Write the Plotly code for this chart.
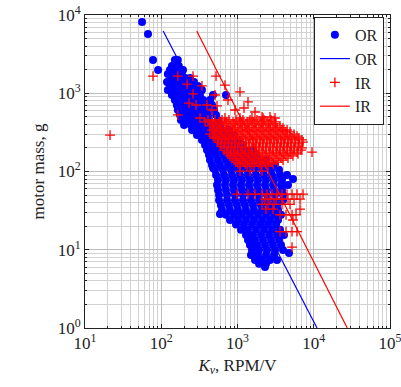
import plotly.graph_objects as go

# OR (outrunner) motors: rows of (motor mass in g, [Kv values in RPM/V])
or_rows = [
    (8130, [56]),
    (5720, [67]),
    (2660, [78, 151, 165]),
    (2440, [156]),
    (2230, [138, 170]),
    (1980, [91, 130, 160, 193]),
    (1760, [122, 151, 181]),
    (1570, [138, 165, 205, 238]),
    (1390, [119, 147, 181, 224, 269]),
    (1240, [130, 160, 199, 245, 303]),
    (1100, [122, 151, 187, 231, 286, 342]),
    (950, [138, 170, 211, 261, 322, 477, 706]),
    (820, [151, 187, 231, 286, 353, 436]),
    (708, [160, 199, 245, 303, 375, 463]),
    (611, [165, 205, 253, 313, 386, 492]),
    (528, [176, 218, 269, 332, 410, 523]),
    (455, [181, 224, 277, 342, 423, 555]),
    (393, [199, 245, 303, 375, 463, 589]),
    (339, [253, 313, 386, 477, 607, 773]),
    (292, [294, 363, 449, 555, 706, 900]),
    (253, [342, 423, 523, 645, 822, 1047]),
    (218, [375, 463, 573, 728, 927, 1180]),
    (188, [398, 492, 607, 773, 985, 1254, 1597]),
    (163, [423, 523, 665, 847, 1078, 1373, 1749]),
    (140, [436, 555, 706, 900, 1145, 1458, 1858, 2366]),
    (121, [463, 589, 750, 956, 1216, 1549, 1973, 2513, 3104]),
    (111, [477]),
    (105, [507, 645, 822, 1047, 1332, 1697, 2160, 2752, 3503]),
    (90, [523, 665, 847, 1078, 1373, 1749, 2227, 2836, 3610, 4461]),
    (80, [5347]),
    (78, [555, 706, 900, 1145, 1458, 1858, 2366, 3013, 3835]),
    (67, [539, 685, 873, 1111, 1415, 1802, 2295, 2923, 3721, 4597]),
    (58, [555, 706, 900, 1145, 1458, 1858, 2366, 3013, 3835]),
    (50, [573, 728, 927, 1180, 1503, 1915, 2438, 3104, 3953]),
    (43, [573, 728, 927, 1180, 1503, 1915, 2438, 3104, 3953]),
    (37, [607, 773, 985, 1254, 1597, 2034, 2591, 3298]),
    (32, [626, 797, 1015, 1292, 1646, 2097, 2669, 3399]),
    (28.7, [589]),
    (28, [706, 900, 1145, 1458, 1858, 2366, 3013, 3721]),
    (24, [797, 1015, 1292, 1646, 2097, 2669, 3399]),
    (21, [956, 1216, 1549, 1973, 2513, 3200]),
    (18, [1111, 1373, 1749, 2227, 2836, 3610]),
    (15.4, [1292, 1597, 2034, 2591, 3298, 4074]),
    (13.3, [1373, 1697, 2160, 2752, 3503]),
    (11.5, [1458, 1802, 2295, 2923, 3721]),
    (9.9, [1549, 1915, 2438, 3104, 3953]),
    (9.1, [4738]),
    (8.6, [1503, 1858, 2366, 3013]),
    (7.4, [1697, 2097, 2669, 3298]),
    (6.6, [1915, 2366]),
    (6.0, [2295]),
]

# IR (inrunner) motors: rows of (motor mass in g, [Kv values in RPM/V])
ir_rows = [
    (1660, [78, 165, 261, 523]),
    (1310, [218]),
    (1270, [685]),
    (1240, [342]),
    (1040, [1078]),
    (980, [261]),
    (950, [507]),
    (820, [750]),
    (775, [1373]),
    (750, [231]),
    (708, [286, 398]),
    (688, [539]),
    (648, [1216]),
    (611, [463, 927]),
    (576, [1697]),
    (528, [165]),
    (498, [2097, 2669]),
    (292, [21.3]),
    (483, [322, 685, 1078, 1549, 2160, 3104]),
    (455, [410, 507, 626, 773, 956, 1180, 1458, 1802, 2227, 2752]),
    (430, [375, 463, 573, 706, 873, 1078, 1332, 1646, 2034, 2513, 3104]),
    (405, [477, 589, 728, 900, 1111, 1373, 1697, 2097, 2591, 3200]),
    (382, [436, 539, 665, 822, 1015, 1254, 1549, 1915, 2366, 2923, 3610]),
    (360, [492, 607, 750, 927, 1145, 1415, 1749, 2160, 2669, 3298, 3953]),
    (339, [463, 573, 706, 873, 1078, 1332, 1646, 2034, 2513, 3104, 3835, 4461]),
    (320, [507, 626, 773, 956, 1180, 1458, 1802, 2227, 2752, 3399, 4199, 4884]),
    (300, [436, 539, 665, 822, 1015, 1254, 1549, 1915, 2366, 2923, 3610, 4461, 5511]),
    (284, [477, 589, 728, 900, 1111, 1373, 1697, 2097, 2591, 3200, 3953, 4884, 6034]),
    (268, [507, 626, 773, 956, 1180, 1458, 1802, 2227, 2752, 3399, 4199, 5188, 6409]),
    (253, [555, 685, 847, 1047, 1292, 1597, 1973, 2438, 3013, 3721, 4597, 5680, 7017]),
    (237, [555, 685, 847, 1047, 1292, 1597, 1973, 2438, 3013, 3721, 4597, 5680, 7232]),
    (225, [607, 750, 927, 1145, 1415, 1749, 2160, 2669, 3298, 4074, 5034, 6409]),
    (211, [607, 750, 927, 1145, 1415, 1749, 2160, 2669, 3298, 4074, 5034, 6219]),
    (200, [665, 822, 1015, 1254, 1549, 1915, 2366, 2923, 3610, 4461, 5511, 7017]),
    (188, [665, 822, 1015, 1254, 1549, 1915, 2366, 2923, 3610, 4461, 5511, 6808]),
    (177, [728, 900, 1111, 1373, 1697, 2097, 2591, 3200, 3953, 4884, 6034, 9490]),
    (168, [750, 927, 1145, 1415, 1749, 2160, 2669, 3298, 4074, 5034, 6219]),
    (158, [797, 985, 1216, 1503, 1858, 2295, 2836, 3503, 4328, 5347]),
    (148, [847, 1047, 1292, 1597, 1973, 2438, 3013, 3721, 4597]),
    (140, [900, 1111, 1373, 1697, 2097, 2591, 3200, 3953]),
    (132, [956, 1180, 1458, 1802, 2227, 2752, 3399]),
    (125, [1015, 1254, 1549, 1915, 2366, 2923]),
    (117, [1078, 1332, 1646, 2034, 2513]),
    (101, [1078, 1458, 2097]),
    (51.5, [985, 1373, 1697, 2097, 2438, 2836, 3298, 3835, 4461, 5188, 6034, 7232]),
    (44.3, [2295, 2669, 3200, 3835, 4597, 5511, 6606]),
    (38.1, [2097, 2513, 3013, 3835, 4884]),
    (33, [2366, 2923, 6606]),
    (28, [3610, 4328, 5188, 5854]),
    (24, [5347]),
    (17, [3610, 4328, 5188, 6034]),
    (10.8, [5188]),
]

# Power-law fit lines (end points)
or_fit_kv = [106, 11040]
or_fit_mass = [6250, 1]
ir_fit_kv = [292, 27500]
ir_fit_mass = [6250, 1]

decades = [1, 2, 3, 4, 5]


def unpack(rows):
    xs, ys = [], []
    for m, kvs in rows:
        for k in kvs:
            xs.append(k)
            ys.append(m)
    return xs, ys


or_kv, or_mass = unpack(or_rows)
ir_kv, ir_mass = unpack(ir_rows)

FONT = "Liberation Serif"
BLUE = "#0000ff"
RED = "#ff0000"

fig = go.Figure()
fig.add_trace(go.Scatter(x=or_kv, y=or_mass, mode="markers", name="OR",
                         marker=dict(symbol="circle", size=8, color=BLUE, line=dict(width=0))))
fig.add_trace(go.Scatter(x=or_fit_kv, y=or_fit_mass, mode="lines", name="OR",
                         line=dict(color=BLUE, width=1.2)))
fig.add_trace(go.Scatter(x=ir_kv, y=ir_mass, mode="markers", name="IR",
                         marker=dict(symbol="cross-thin", size=7, color=RED,
                                     line=dict(width=1.3, color=RED))))
fig.add_trace(go.Scatter(x=ir_fit_kv, y=ir_fit_mass, mode="lines", name="IR",
                         line=dict(color=RED, width=1.2)))


def minor_vals(lo, hi):
    vals = []
    for e in range(lo, hi):
        for m in range(2, 10):
            vals.append(m * 10 ** e)
    return vals


axis_common = dict(
    type="log", automargin=False, ticklabeloverflow="allow",
    showline=True, linecolor="#222222", linewidth=1, mirror="allticks",
    ticks="inside", ticklen=4, tickcolor="#222222",
    showgrid=True, gridcolor="#bdbdbd", gridwidth=1,
    zeroline=False,
    tickfont=dict(family=FONT, size=17, color="#222222"),
)

xt = [10 ** d for d in decades]
fig.update_xaxes(
    **axis_common,
    range=[1, 5],
    tickmode="array", tickvals=xt, ticktext=[f"10<sup>{d}</sup>" for d in decades],
    minor=dict(tickmode="array", tickvals=minor_vals(1, 5), ticks="inside", ticklen=2,
               tickcolor="#222222", showgrid=True, gridcolor="#d2d2d2", gridwidth=1),
    title=dict(text="<i>K<sub>v</sub></i>, RPM/V", font=dict(family=FONT, size=17, color="#222222"),
               standoff=6),
)
yd = [0, 1, 2, 3, 4]
fig.update_yaxes(
    **axis_common,
    range=[0, 4],
    tickmode="array", tickvals=[10 ** d for d in yd], ticktext=[f"10<sup>{d}</sup>" for d in yd],
    minor=dict(tickmode="array", tickvals=minor_vals(0, 4), ticks="inside", ticklen=2,
               tickcolor="#222222", showgrid=True, gridcolor="#d2d2d2", gridwidth=1),
    title=dict(text="motor mass, g", font=dict(family=FONT, size=17, color="#222222"),
               standoff=8),
)

fig.update_layout(
    width=401, height=387, autosize=False,
    margin=dict(l=85, r=11, t=15, b=59, autoexpand=False),
    paper_bgcolor="white", plot_bgcolor="white",
    font=dict(family=FONT, color="#222222"),
    legend=dict(x=0.98, y=0.994, xanchor="right", yanchor="top",
                bgcolor="white", bordercolor="#222222", borderwidth=1,
                font=dict(family=FONT, size=16, color="#222222"),
                tracegroupgap=0, itemwidth=30),
    showlegend=True,
)

fig.write_html("out.html")
